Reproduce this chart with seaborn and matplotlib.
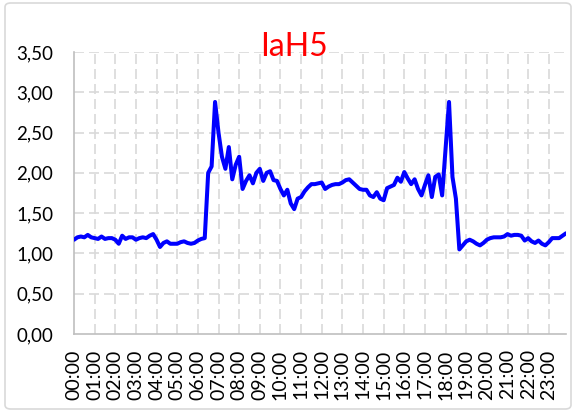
import numpy as np
import pandas as pd
import matplotlib
matplotlib.use('Agg')
import matplotlib.pyplot as plt
from matplotlib.patches import FancyBboxPatch
import seaborn as sns

# 10-minute readings, one row of six values per hour
h00 = [1.17, 1.20, 1.21, 1.20, 1.23, 1.20]
h01 = [1.19, 1.18, 1.21, 1.18, 1.19, 1.19]
h02 = [1.17, 1.12, 1.22, 1.18, 1.20, 1.20]
h03 = [1.17, 1.19, 1.20, 1.19, 1.22, 1.24]
h04 = [1.17, 1.08, 1.13, 1.15, 1.12, 1.12]
h05 = [1.12, 1.14, 1.15, 1.13, 1.12, 1.13]
h06 = [1.16, 1.18, 1.19, 2.00, 2.08, 2.88]
h07 = [2.50, 2.20, 2.05, 2.32, 1.92, 2.10]
h08 = [2.20, 1.80, 1.90, 1.97, 1.87, 2.00]
h09 = [2.05, 1.90, 2.00, 2.02, 1.91, 1.90]
h10 = [1.80, 1.72, 1.79, 1.62, 1.55, 1.68]
h11 = [1.70, 1.77, 1.82, 1.86, 1.86, 1.87]
h12 = [1.88, 1.80, 1.83, 1.85, 1.86, 1.86]
h13 = [1.88, 1.91, 1.92, 1.88, 1.84, 1.80]
h14 = [1.79, 1.79, 1.72, 1.70, 1.76, 1.68]
h15 = [1.66, 1.81, 1.83, 1.85, 1.94, 1.89]
h16 = [2.01, 1.93, 1.86, 1.92, 1.80, 1.72]
h17 = [1.85, 1.97, 1.70, 1.95, 1.98, 1.72]
h18 = [2.30, 2.88, 1.95, 1.68, 1.05, 1.10]
h19 = [1.15, 1.17, 1.15, 1.12, 1.10, 1.13]
h20 = [1.17, 1.19, 1.20, 1.20, 1.20, 1.21]
h21 = [1.24, 1.22, 1.23, 1.23, 1.22, 1.16]
h22 = [1.19, 1.15, 1.13, 1.16, 1.12, 1.10]
h23 = [1.14, 1.19, 1.19, 1.19, 1.22, 1.25]

values = (h00 + h01 + h02 + h03 + h04 + h05 + h06 + h07 + h08 + h09 + h10 + h11
          + h12 + h13 + h14 + h15 + h16 + h17 + h18 + h19 + h20 + h21 + h22 + h23)
hour_labels = [f"{h:02d}:00" for h in range(24)]
y_ticks = [0, 0.5, 1.0, 1.5, 2.0, 2.5, 3.0, 3.5]
title = "IaH5"

df = pd.DataFrame({'step': np.arange(len(values)), 'value': values})

sns.set_style("white")
plt.rcParams['font.family'] = ['Lato', 'DejaVu Sans']

fig = plt.figure(figsize=(5.76, 4.12), dpi=100)
ax = fig.add_axes([74 / 576, 1 - 334 / 412, 492 / 576, 282 / 412])

# dashed grid
grid_kw = dict(color='#d9d9d9', linewidth=1.2, linestyle=(0, (6, 3)), zorder=0)
for t in range(6, len(values), 6):
    ax.axvline(t, **grid_kw)
for v in y_ticks[1:]:
    ax.axhline(v, **grid_kw)

sns.lineplot(data=df, x='step', y='value', color='#0000ff', linewidth=2.9, ax=ax, zorder=3)

ax.set_xlim(0, len(values) - 1)
ax.set_ylim(0, 3.5)
ax.set_xticks(range(0, len(values), 6))
ax.set_xticklabels(hour_labels, rotation=90, fontsize=14)
ax.set_yticks(y_ticks)
ax.set_yticklabels([f"{v:.2f}".replace('.', ',') for v in y_ticks], fontsize=13.5)
ax.tick_params(axis='both', length=0, colors='black')
ax.tick_params(axis='y', pad=15)
ax.tick_params(axis='x', pad=11)
ax.set_xlabel('')
ax.set_ylabel('')

for s in ['top', 'right']:
    ax.spines[s].set_visible(False)
for s in ['left', 'bottom']:
    ax.spines[s].set_color('#bfbfbf')
    ax.spines[s].set_linewidth(1.2)

fig.text(294 / 576, 1 - 47 / 412, title, color='red', fontsize=23,
         ha='center', va='center')

# chart border
border = FancyBboxPatch((5 / 576, 3 / 412), 566 / 576, 406 / 412,
                        boxstyle='round,pad=0,rounding_size=0.01',
                        transform=fig.transFigure, facecolor='none',
                        edgecolor='#d9d9d9', linewidth=1.2)
fig.patches.append(border)

fig.savefig('out.png', dpi=100)
